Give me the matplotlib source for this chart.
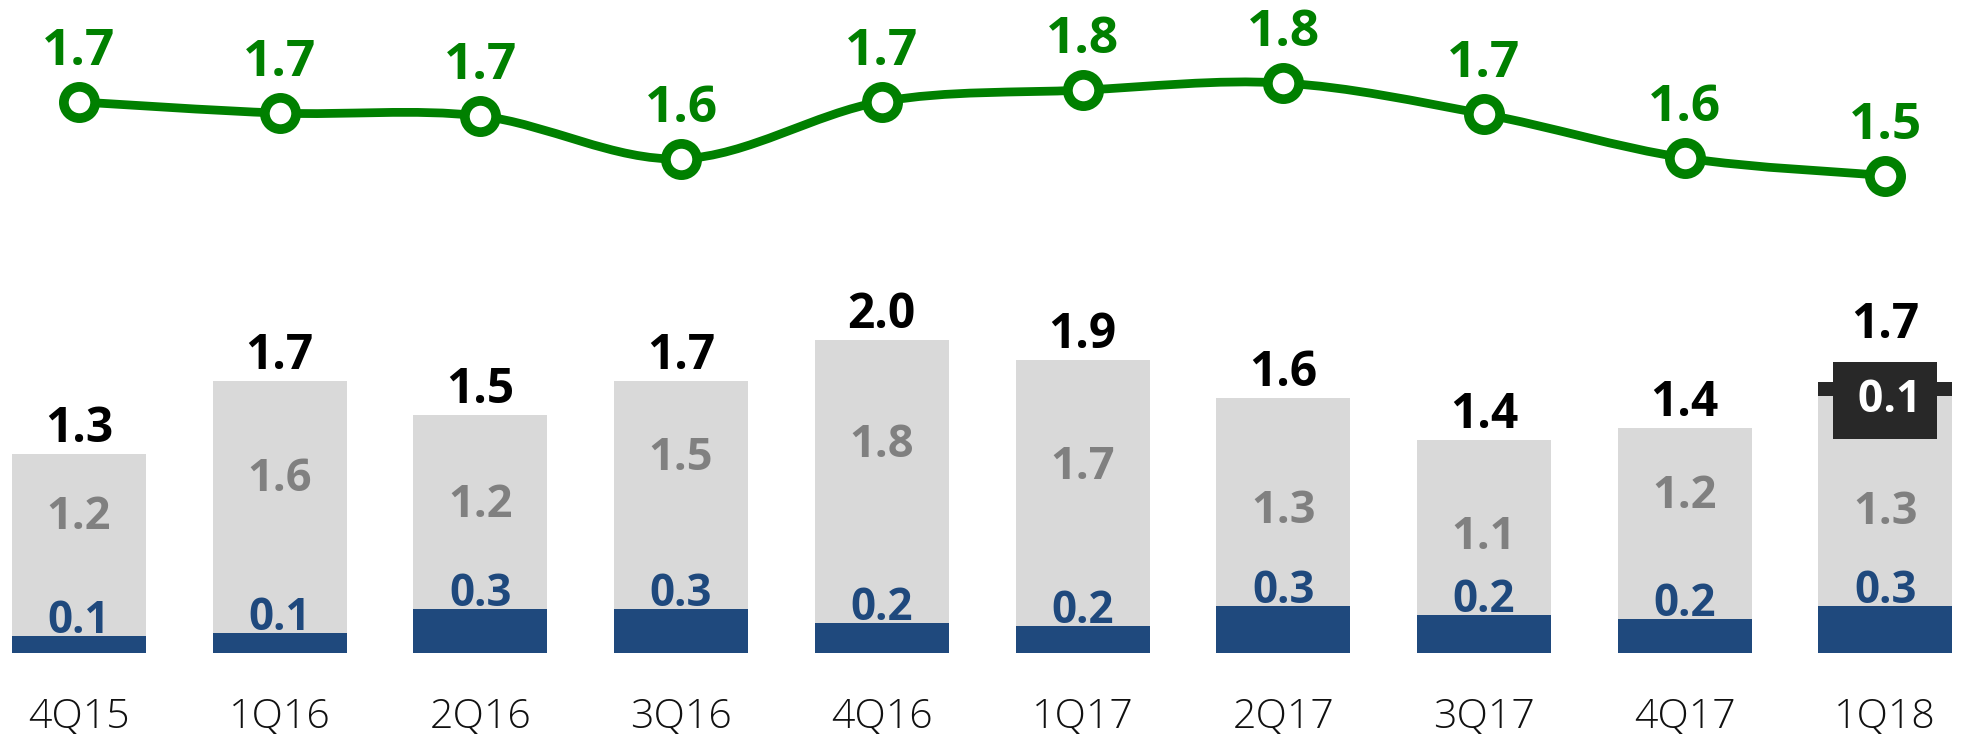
import matplotlib
matplotlib.use("Agg")
import matplotlib.pyplot as plt
from matplotlib.path import Path
from matplotlib.patches import PathPatch
import numpy as np

plt.rcParams['font.family'] = ['Open Sans', 'DejaVu Sans']

# ---------------- data ----------------
quarters = ["4Q15", "1Q16", "2Q16", "3Q16", "4Q16", "1Q17", "2Q17", "3Q17", "4Q17", "1Q18"]
navy_vals = [0.11, 0.13, 0.28, 0.28, 0.19, 0.17, 0.30, 0.24, 0.22, 0.30]
gray_vals = [1.16, 1.61, 1.24, 1.46, 1.81, 1.70, 1.33, 1.12, 1.22, 1.34]
dark_vals = [0, 0, 0, 0, 0, 0, 0, 0, 0, 0.09]
navy_labels = ["0.1", "0.1", "0.3", "0.3", "0.2", "0.2", "0.3", "0.2", "0.2", "0.3"]
gray_labels = ["1.2", "1.6", "1.2", "1.5", "1.8", "1.7", "1.3", "1.1", "1.2", "1.3"]
dark_labels = ["", "", "", "", "", "", "", "", "", "0.1"]
total_labels = ["1.3", "1.7", "1.5", "1.7", "2.0", "1.9", "1.6", "1.4", "1.4", "1.7"]
line_vals = [1.74, 1.705, 1.696, 1.562, 1.741, 1.777, 1.799, 1.702, 1.565, 1.51]
line_labels = ["1.7", "1.7", "1.7", "1.6", "1.7", "1.8", "1.8", "1.7", "1.6", "1.5"]

# ---------------- style ----------------
NAVY = "#1F497D"
GRAY = "#D9D9D9"
GRAY_TXT = "#808080"
DARK = "#282828"
GREEN = "#008000"
PX = 72 / 100.0  # points per pixel at dpi 100
gray_label_dy = [16, 15.5, -5, 25, 25, 14, -21, -21, 15, -22.5]  # px, label tweaks

W, H = 1965, 734
fig = plt.figure(figsize=(W / 100, H / 100), dpi=100)

# bar axes
base_px = 653
unit_px = 156.5
axb = fig.add_axes([0, (H - base_px) / H, 1, base_px / H])
axb.set_facecolor("none")
x = np.arange(len(quarters))
step_px = 200.7
x0_px = 79
axb.set_xlim(-x0_px / step_px, (W - x0_px) / step_px)
axb.set_ylim(0, base_px / unit_px)
bw = 134 / step_px

navy = np.array(navy_vals)
gray = np.array(gray_vals)
dark = np.array(dark_vals)
axb.bar(x, navy, width=bw, color=NAVY, zorder=2)
axb.bar(x, gray, width=bw, bottom=navy, color=GRAY, zorder=2)
axb.bar(x, dark, width=bw, bottom=navy + gray, color=DARK, zorder=2)
tops = navy + gray + dark

for i in range(len(x)):
    axb.annotate(navy_labels[i], (x[i], navy[i]), xytext=(0, 3 * PX), textcoords="offset points",
                 ha="center", va="baseline", fontsize=31.5, fontweight="bold", color=NAVY, zorder=3)
    gc = navy[i] + gray[i] / 2
    axb.annotate(gray_labels[i], (x[i], gc), xytext=(0, gray_label_dy[i] * PX), textcoords="offset points",
                 ha="center", va="baseline", fontsize=32.5, fontweight="bold", color=GRAY_TXT, zorder=3)
    extra = 44 if dark[i] > 0 else 12
    axb.annotate(total_labels[i], (x[i], tops[i]), xytext=(0, extra * PX), textcoords="offset points",
                 ha="center", va="baseline", fontsize=34.5, fontweight="bold", color="black", zorder=3)
    if dark[i] > 0:
        axb.annotate("\u2009" + dark_labels[i], (x[i], tops[i]), xytext=(0, -18.5 * PX),
                     textcoords="offset points", ha="center", va="center", fontsize=32,
                     fontweight="bold", color="white", zorder=4,
                     bbox=dict(boxstyle="square,pad=0.36", fc=DARK, ec="none"))

axb.set_xticks(x)
axb.set_xticklabels(quarters, fontsize=29.5, fontweight="light", color="#111111")
axb.tick_params(axis="x", length=0, pad=31)
axb.set_yticks([])
for s in axb.spines.values():
    s.set_visible(False)

# line axes
axl = fig.add_axes([0, 0, 1, 1])
axl.set_facecolor("none")
axl.set_xlim(axb.get_xlim())
lunit = 320.0
ref_px, ref_val = 175.5, 1.51
axl.set_ylim(ref_val - (H - ref_px) / lunit, ref_val + ref_px / lunit)
axl.axis("off")

# smooth curve (Catmull-Rom -> cubic Bezier) through the data points
lv = np.array(line_vals)
pts = np.column_stack([x, lv])
verts = [tuple(pts[0])]
codes = [Path.MOVETO]
n = len(pts)
for i in range(n - 1):
    p0 = pts[max(i - 1, 0)]
    p1 = pts[i]
    p2 = pts[i + 1]
    p3 = pts[min(i + 2, n - 1)]
    c1 = p1 + (p2 - p0) / 6.0
    c2 = p2 - (p3 - p1) / 6.0
    verts += [tuple(c1), tuple(c2), tuple(p2)]
    codes += [Path.CURVE4] * 3
axl.add_patch(PathPatch(Path(verts, codes), fc="none", ec=GREEN, lw=6.3, capstyle="round", zorder=2))
axl.plot(x, lv, linestyle="none", marker="o", ms=22.5, mfc="white", mec=GREEN, mew=7, zorder=3)
for i in range(n):
    axl.annotate(line_labels[i], (x[i], lv[i]), xytext=(0, 37 * PX), textcoords="offset points",
                 ha="center", va="baseline", fontsize=37, fontweight="bold", color=GREEN)

fig.savefig("out.png", dpi=100)
